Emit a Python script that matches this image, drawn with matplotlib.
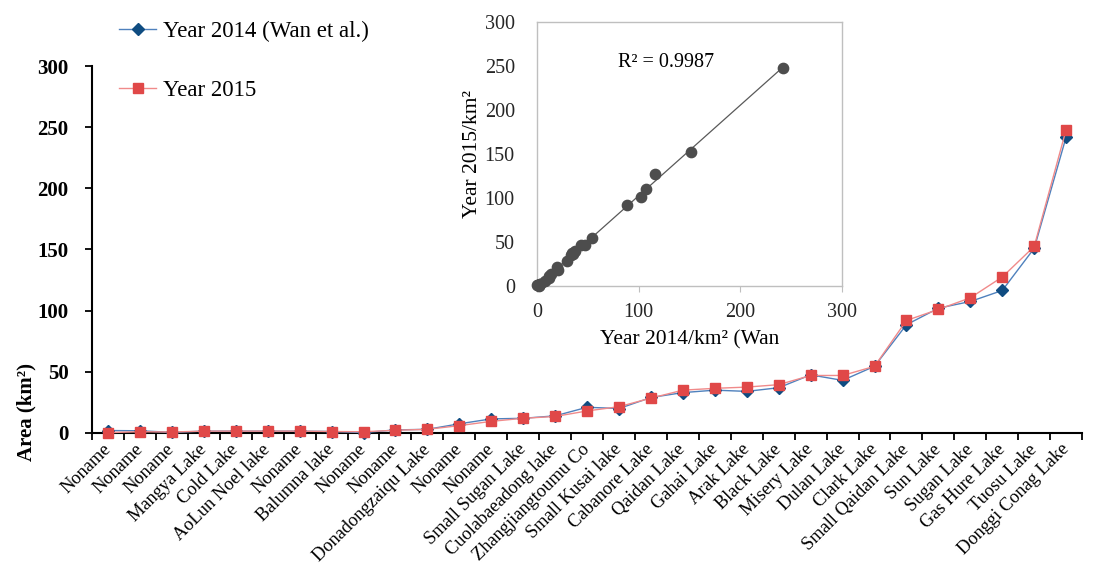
import numpy as np
import matplotlib
matplotlib.use('Agg')
from matplotlib import pyplot as plt

plt.rcParams['font.family'] = ['Liberation Serif', 'DejaVu Serif']

# lake names, ordered by area
lakes = ['Noname', 'Noname', 'Noname', 'Mangya Lake', 'Cold Lake', 'AoLun Noel lake',
         'Noname', 'Balumna lake', 'Noname', 'Noname', 'Donadongzaiqu Lake', 'Noname',
         'Noname', 'Small Sugan Lake', 'Cuolabaeadong lake', 'Zhangjiangtoumu Co',
         'Small Kusai lake', 'Cabanore Lake', 'Qaidan Lake', 'Gahai Lake', 'Arak Lake',
         'Black Lake', 'Misery Lake', 'Dulan Lake', 'Clark Lake', 'Small Qaidan Lake',
         'Sun Lake', 'Sugan Lake', 'Gas Hure Lake', 'Tuosu Lake', 'Donggi Conag Lake']

area2014 = [2.0, 1.8, 0.5, 1.5, 1.5, 1.5, 1.5, 1.2, 0.3, 2.5, 3.0, 7.5, 11.5, 12.0,
            14.0, 21.0, 20.0, 29.0, 33.0, 35.0, 34.0, 37.0, 47.5, 43.0, 54.5, 88.5,
            102.0, 107.5, 116.5, 151.0, 242.0]
area2015 = [0.3, 1.0, 0.8, 1.5, 1.5, 1.5, 1.5, 1.2, 1.0, 2.2, 3.0, 6.0, 9.5, 12.0,
            13.5, 18.0, 21.5, 28.5, 35.0, 36.5, 37.5, 39.5, 47.0, 47.0, 54.5, 92.0,
            101.0, 110.5, 127.5, 152.5, 248.0]

yticks = [0, 50, 100, 150, 200, 250, 300]
inset_xticks = [0, 100, 200, 300]

fig = plt.figure(figsize=(11.05, 5.7), dpi=100)
ax = fig.add_axes([0.0833, 0.2404, 0.896, 0.6438])

x = np.arange(len(lakes))
l1, = ax.plot(x, area2014, color='#4f81bd', lw=1.0, marker='D', markersize=6.5,
              markerfacecolor='#0f4c81', markeredgecolor='#0f4c81', clip_on=False, zorder=3,
              label='Year 2014 (Wan et al.)')
l2, = ax.plot(x, area2015, color='#f08a8a', lw=1.0, marker='s', markersize=7.5,
              markerfacecolor='#e04848', markeredgecolor='#e04848', clip_on=False, zorder=4,
              label='Year 2015')

ax.set_xlim(-0.5, len(lakes) - 0.5)
ax.set_ylim(0, 300)
ax.set_yticks(yticks)
ax.set_yticklabels([str(v) for v in yticks], fontweight='bold', fontsize=15)
ax.set_xticks(np.arange(len(lakes) + 1) - 0.5)
ax.set_xticklabels([])
ax.set_xticks(x, minor=True)
ax.set_xticklabels(lakes, minor=True, rotation=45, ha='right', va='center',
                   rotation_mode='anchor', fontsize=13.2)
ax.tick_params(axis='x', which='minor', length=0, pad=10)
ax.tick_params(axis='both', which='major', direction='out', length=5, width=1.3, color='black')
ax.tick_params(axis='y', pad=12)
for s in ['top', 'right']:
    ax.spines[s].set_visible(False)
for s in ['left', 'bottom']:
    ax.spines[s].set_linewidth(1.5)

ax.set_ylabel('Area (km²)', fontweight='bold', fontsize=15)
ax.yaxis.set_label_coords(-0.056, 0.057)

fig.legend(handles=[l1, l2], loc='upper left', bbox_to_anchor=(0.108, 0.964),
           frameon=False, fontsize=16.5, borderaxespad=0, borderpad=0,
           handlelength=1.6, handletextpad=0.3, labelspacing=1.65)

# inset scatter
axi = fig.add_axes([0.486, 0.498, 0.276, 0.463])
axi.scatter(area2014, area2015, s=55, color='#4d4d4d', zorder=3, clip_on=False)
k, b = np.polyfit(area2014, area2015, 1)
xs = np.array([min(area2014), max(area2014)])
axi.plot(xs, k * xs + b, color='#595959', lw=0.9, zorder=2)
axi.set_xlim(0, 300)
axi.set_ylim(0, 300)
axi.set_xticks(inset_xticks)
axi.set_yticks(yticks)
axi.tick_params(axis='x', direction='out', length=4, color='#bfbfbf', labelsize=14.5, pad=8,
                labelcolor='#262626')
axi.tick_params(axis='y', length=0, labelsize=14.5, pad=16, labelcolor='#262626')
for s in axi.spines.values():
    s.set_color('#bfbfbf')
    s.set_linewidth(1.0)
axi.set_xlabel('Year 2014/km² (Wan', fontsize=15.5, labelpad=6)
axi.set_ylabel('Year 2015/km²', fontsize=15.5, labelpad=2)
axi.text(0.265, 0.83, 'R² = 0.9987', transform=axi.transAxes, fontsize=14.5)

fig.savefig('out.png', dpi=100)
